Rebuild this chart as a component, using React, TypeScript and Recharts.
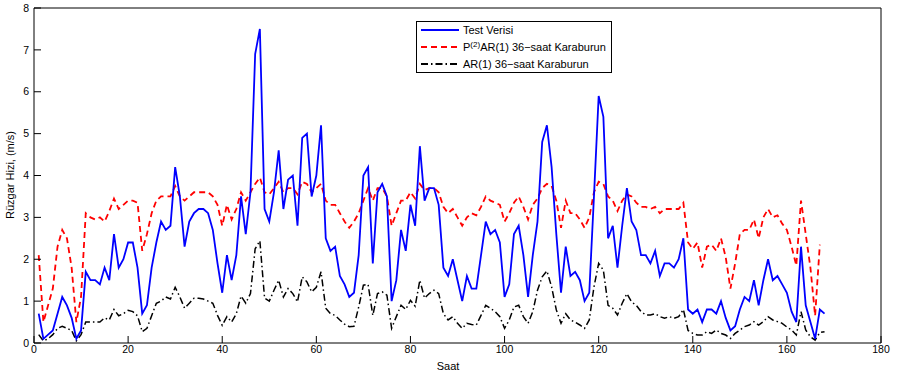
import React from 'react';
import { LineChart, Line, XAxis, YAxis, Label } from 'recharts';

// hours 1..168 on the x axis
const hours = Array.from({ length: 168 }, (_, i) => i + 1);

const testVerisi = [
    0.7, 0.1, 0.2, 0.3, 0.7, 1.1, 0.9, 0.6, 0.1, 0.3,
    1.7, 1.5, 1.5, 1.4, 1.8, 1.5, 2.6, 1.8, 2.0, 2.4,
    2.4, 1.8, 0.7, 0.9, 1.8, 2.4, 2.9, 2.7, 2.8, 4.2,
    3.5, 2.3, 2.9, 3.1, 3.2, 3.2, 3.1, 2.7, 1.9, 1.2,
    2.1, 1.5, 2.1, 3.5, 2.6, 3.6, 6.9, 7.5, 3.2, 2.9,
    3.6, 4.6, 3.2, 3.9, 4.0, 2.8, 4.9, 5.0, 3.5, 4.0,
    5.2, 2.5, 2.2, 2.3, 1.6, 1.4, 1.1, 1.2, 2.1, 4.0,
    4.2, 1.9, 3.6, 3.8, 3.5, 1.0, 1.5, 2.7, 2.2, 3.3,
    2.8, 4.7, 3.4, 3.7, 3.7, 3.3, 1.8, 1.6, 2.0, 1.5,
    1.0, 1.6, 1.3, 1.3, 2.1, 2.9, 2.6, 2.7, 2.4, 1.1,
    1.4, 2.6, 2.8, 2.1, 1.1, 2.1, 2.9, 4.8, 5.2, 4.2,
    2.6, 1.2, 2.3, 1.6, 1.7, 1.5, 1.0, 1.2, 3.5, 5.9,
    5.4, 2.5, 2.8, 1.8, 2.8, 3.7, 2.9, 2.7, 2.1, 2.1,
    1.9, 2.2, 1.6, 1.9, 1.9, 1.8, 2.0, 2.5, 0.8, 0.7,
    0.8, 0.5, 0.8, 0.8, 0.7, 1.0, 0.6, 0.3, 0.4, 0.8,
    1.1, 1.0, 1.5, 0.9, 1.5, 2.0, 1.5, 1.6, 1.4, 1.2,
    0.75, 0.5, 2.3, 0.9, 0.5, 0.1, 0.8, 0.7
];

// P(2)AR(1) 36-saat Karaburun (ends at hour 167)
const p2ar1 = [
    2.1, 0.5, 0.9, 1.3, 2.3, 2.7, 2.5, 1.8, 0.5, 1.1,
    3.1, 3.0, 2.95, 3.0, 2.9, 3.15, 3.45, 3.2, 3.3, 3.4,
    3.4, 3.35, 2.2, 2.6, 3.1, 3.4, 3.5, 3.5, 3.5, 3.75,
    3.5, 3.4, 3.5, 3.6, 3.6, 3.6, 3.6, 3.5, 3.3, 2.8,
    3.3, 2.95, 3.2, 3.6, 3.4, 3.6, 3.8, 3.95, 3.6, 3.55,
    3.7, 3.85, 3.6, 3.7, 3.7, 3.55, 3.85, 3.8, 3.6, 3.7,
    3.8, 3.4, 3.3, 3.3, 3.1, 2.9, 2.75, 2.9, 3.1, 3.4,
    3.7, 3.4, 3.7, 3.7, 3.5, 2.8, 3.1, 3.4, 3.4, 3.6,
    3.45, 3.8, 3.65, 3.7, 3.7, 3.6, 3.25, 3.1, 3.2, 3.0,
    2.8, 3.0, 3.1, 3.05, 3.25, 3.5, 3.4, 3.35, 3.3, 2.9,
    3.1, 3.35, 3.5, 3.25, 2.95, 3.3, 3.45, 3.7, 3.8, 3.75,
    3.4, 2.75, 3.4, 3.1, 3.1, 2.95, 2.75, 3.0, 3.6, 3.85,
    3.8, 3.5, 3.4, 3.15, 3.4, 3.55, 3.5, 3.35, 3.25, 3.25,
    3.2, 3.25, 3.1, 3.2, 3.2, 3.2, 3.2, 3.35, 2.4, 2.25,
    2.4, 1.8, 2.3, 2.35, 2.2, 2.5, 2.05, 1.3, 1.9, 2.6,
    2.7, 2.7, 2.95, 2.5, 3.0, 3.2, 3.0, 3.05, 2.85, 2.7,
    2.3, 1.85, 3.4, 2.6, 1.8, 0.65, 2.35
];

const ar1 = [
    0.2, 0.05, 0.1, 0.2, 0.35, 0.4, 0.35, 0.3, 0.05, 0.2,
    0.5, 0.5, 0.5, 0.5, 0.6, 0.55, 0.8, 0.65, 0.7, 0.78,
    0.75, 0.65, 0.27, 0.35, 0.65, 0.95, 1.0, 1.1, 1.05, 1.33,
    1.1, 0.83, 0.95, 1.07, 1.07, 1.05, 1.0, 0.95, 0.66, 0.42,
    0.63, 0.5, 0.7, 1.12, 0.95, 1.18, 2.25, 2.44, 1.07, 1.0,
    1.26, 1.5, 1.1, 1.3, 1.18, 0.98, 1.58, 1.46, 1.22, 1.33,
    1.7, 0.83, 0.7, 0.66, 0.55, 0.45, 0.39, 0.4, 0.86, 1.38,
    1.4, 0.66, 1.18, 1.22, 1.14, 0.35, 0.63, 0.9, 0.8, 1.02,
    0.88, 1.5, 1.07, 1.18, 1.26, 1.18, 0.7, 0.55, 0.63, 0.47,
    0.35, 0.47, 0.44, 0.43, 0.66, 0.9, 0.83, 0.75, 0.63, 0.35,
    0.55, 0.86, 0.9, 0.63, 0.47, 0.75, 1.26, 1.58, 1.72, 1.34,
    0.79, 0.47, 0.7, 0.55, 0.5, 0.43, 0.35, 0.55, 1.34, 1.9,
    1.74, 0.9, 0.83, 0.67, 0.95, 1.18, 0.98, 0.9, 0.75, 0.67,
    0.67, 0.7, 0.63, 0.59, 0.63, 0.59, 0.63, 0.8, 0.3, 0.23,
    0.19, 0.19, 0.27, 0.23, 0.31, 0.23, 0.19, 0.11, 0.23, 0.31,
    0.39, 0.43, 0.51, 0.43, 0.51, 0.63, 0.55, 0.51, 0.47, 0.38,
    0.31, 0.19, 0.75, 0.31, 0.15, 0.07, 0.25, 0.27
];

const xTicks = [0, 20, 40, 60, 80, 100, 120, 140, 160, 180];
const yTicks = [0, 1, 2, 3, 4, 5, 6, 7, 8];

const FONT = "'Liberation Sans', Arial, Helvetica, sans-serif";
const tickStyle = { fill: '#000', fontSize: 10.5, fontFamily: FONT };

const chartData = hours.map((h, i) => ({
    saat: h,
    test: testVerisi[i],
    p2ar: p2ar1[i] ?? null,
    ar: ar1[i]
}));

const LegendRow = ({ color, dash, children }: { color: string; dash?: string; children: React.ReactNode }) => (
    <div style={{ display: 'flex', alignItems: 'center', height: 17 }}>
        <svg width={44} height={10} style={{ flexShrink: 0 }}>
            <line x1={4} y1={5} x2={42} y2={5} stroke={color} strokeWidth={1.8} strokeDasharray={dash} />
        </svg>
        <span style={{ marginLeft: 2, whiteSpace: 'nowrap' }}>{children}</span>
    </div>
);

export default function App() {
    return (
        <div style={{ position: 'absolute', left: 0, top: 0, width: 899, height: 374, background: '#fff' }}>
            <LineChart width={899} height={374} data={chartData} margin={{ top: 7, right: 17, bottom: 0, left: 0 }}>
                <XAxis
                    dataKey="saat"
                    type="number"
                    domain={[0, 180]}
                    ticks={xTicks}
                    height={31}
                    tickSize={-7}
                    tickMargin={10}
                    tick={tickStyle}
                    stroke="#000"
                    interval={0}
                >
                    <Label
                        content={() => (
                            <text x={448} y={370} textAnchor="middle" fontSize={11} fontFamily={FONT} fill="#000">Saat</text>
                        )}
                    />
                </XAxis>
                {/* top + right axes only close the box (MATLAB "box on") */}
                <XAxis
                    xAxisId="top"
                    dataKey="saat"
                    type="number"
                    orientation="top"
                    domain={[0, 180]}
                    ticks={xTicks}
                    height={1}
                    tickSize={-7}
                    tick={false}
                    stroke="#000"
                    interval={0}
                />
                <YAxis
                    domain={[0, 8]}
                    ticks={yTicks}
                    width={34}
                    tickSize={-7}
                    tickMargin={12}
                    tick={tickStyle}
                    stroke="#000"
                    interval={0}
                >
                    <Label
                        content={() => (
                            <text
                                x={14}
                                y={175}
                                transform="rotate(-90 14 175)"
                                textAnchor="middle"
                                fontSize={11}
                                fontFamily={FONT}
                                fill="#000"
                            >
                                Rüzgar Hizi, (m/s)
                            </text>
                        )}
                    />
                </YAxis>
                <YAxis
                    yAxisId="right"
                    orientation="right"
                    domain={[0, 8]}
                    ticks={yTicks}
                    width={1}
                    tickSize={-7}
                    tick={false}
                    stroke="#000"
                    interval={0}
                />
                <Line
                    type="linear"
                    dataKey="ar"
                    stroke="#000"
                    strokeWidth={1.5}
                    strokeDasharray="7 3 1.5 3"
                    dot={false}
                    isAnimationActive={false}
                />
                <Line
                    type="linear"
                    dataKey="p2ar"
                    stroke="#ff0000"
                    strokeWidth={1.8}
                    strokeDasharray="6 4"
                    dot={false}
                    isAnimationActive={false}
                />
                <Line
                    type="linear"
                    dataKey="test"
                    stroke="#0000ff"
                    strokeWidth={1.8}
                    dot={false}
                    isAnimationActive={false}
                />
            </LineChart>
            <div
                style={{
                    position: 'absolute',
                    left: 416,
                    top: 21,
                    width: 194,
                    height: 50,
                    border: '1px solid #000',
                    background: '#fff',
                    fontFamily: FONT,
                    fontSize: 11,
                    color: '#000',
                    display: 'flex',
                    flexDirection: 'column',
                    justifyContent: 'center'
                }}
            >
                <LegendRow color="#0000ff">Test Verisi</LegendRow>
                <LegendRow color="#ff0000" dash="6 4">
                    P<sup style={{ fontSize: 8, verticalAlign: 4, lineHeight: 0 }}>(2)</sup>AR(1) 36−saat Karaburun
                </LegendRow>
                <LegendRow color="#000" dash="7 3 1.5 3">AR(1) 36−saat Karaburun</LegendRow>
            </div>
        </div>
    );
}
